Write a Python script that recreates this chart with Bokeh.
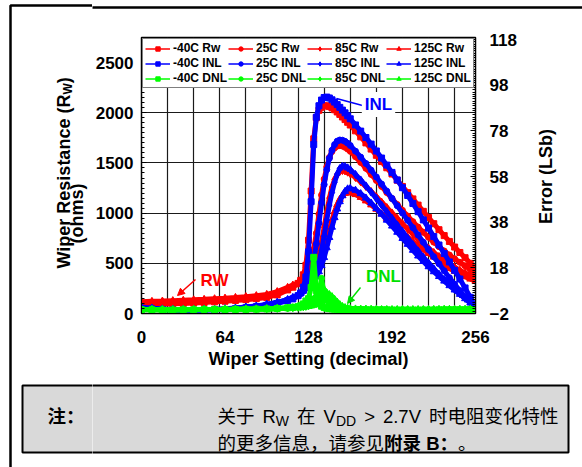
import math
from bokeh.plotting import figure
from bokeh.layouts import row, column
from bokeh.models import (Range1d, LinearAxis, FixedTicker, Label, Arrow, NormalHead,
                          Legend, LegendItem, BoxAnnotation)
from bokeh.core.properties import value
from bokeh.embed import file_html
from bokeh.resources import INLINE

# ---------------- data ----------------
codes = [0, 8, 16, 24, 32, 40, 48, 56, 64, 72, 80, 88, 96, 104, 112,
         116, 120, 122, 124, 126, 128, 130, 132, 134, 136, 138, 140, 142, 144, 146,
         148, 150, 152, 154, 156, 158, 160,
         164, 168, 172, 176, 180, 184, 188, 192, 196, 200, 204, 208, 212, 216, 220,
         224, 228, 232, 236, 240, 244, 248, 252, 256]

temps = ["-40C", "25C", "85C", "125C"]

# Wiper resistance (ohms, left axis)
rw_m40 = [85, 88, 92, 96, 100, 105, 110, 116, 122, 130, 138, 148, 160, 185, 235,
          262, 300, 330, 385, 480, 730, 1220, 1740, 1950, 2025, 2055, 2068, 2070, 2062, 2048,
          2030, 2008, 1984, 1958, 1932, 1905, 1878,
          1820, 1760, 1700, 1638, 1576, 1514, 1452, 1390, 1328, 1266, 1204, 1142, 1080, 1018, 956,
          895, 835, 776, 718, 662, 608, 556, 500, 445]
rw_25 = [95, 98, 101, 105, 109, 113, 118, 124, 130, 137, 145, 155, 168, 200, 245,
         270, 300, 322, 345, 375, 420, 520, 640, 800, 990, 1180, 1340, 1460, 1555, 1615,
         1650, 1668, 1673, 1668, 1656, 1638, 1616,
         1562, 1505, 1446, 1386, 1326, 1266, 1205, 1145, 1086, 1028, 971, 915, 861, 809, 759,
         711, 666, 623, 583, 545, 510, 475, 440, 405]
rw_85 = [105, 108, 111, 115, 119, 123, 128, 134, 140, 147, 155, 165, 177, 208, 252,
         276, 300, 318, 338, 360, 388, 415, 450, 505, 590, 710, 860, 1010, 1150, 1260,
         1335, 1385, 1415, 1424, 1420, 1408, 1392,
         1355, 1312, 1265, 1215, 1163, 1110, 1056, 1002, 948, 895, 843, 792, 743, 696, 651,
         608, 568, 530, 495, 462, 432, 404, 378, 352]
rw_125 = [118, 121, 124, 128, 132, 136, 141, 147, 153, 160, 168, 178, 190, 218, 260,
          283, 303, 318, 335, 352, 372, 395, 420, 452, 498, 560, 640, 735, 835, 930,
          1015, 1085, 1138, 1175, 1197, 1205, 1203,
          1185, 1157, 1122, 1082, 1039, 994, 948, 901, 854, 808, 763, 719, 677, 636, 598,
          562, 515, 480, 448, 420, 393, 367, 343, 320]

# INL (LSb, right axis)
inl_m40 = [0.3, 0.0, -0.3, -0.5, -0.6, -0.6, -0.5, -0.4, -0.2, 0.1, 0.5, 1.0, 1.6, 2.4, 3.6,
           4.4, 5.8, 7.0, 9.5, 14, 25, 47, 72, 84, 89, 91.5, 92.6, 92.8, 92.4, 91.6,
           90.6, 89.5, 88.3, 87.1, 85.9, 84.6, 83.3,
           80.6, 77.9, 75.1, 72.2, 69.2, 66.1, 63.0, 59.8, 56.5, 53.1, 49.7, 46.2, 42.6, 39.0, 35.4,
           31.7, 28.0, 24.3, 20.6, 16.9, 13.1, 9.2, 5.1, 0.8]
inl_25 = [0.4, 0.1, -0.2, -0.4, -0.5, -0.5, -0.4, -0.3, -0.1, 0.2, 0.6, 1.1, 1.8, 2.7, 3.9,
          4.8, 5.9, 6.7, 7.8, 9.3, 11.5, 15, 21, 28.5, 37.5, 46.5, 54.5, 61, 66, 69.5,
          72, 73.5, 74, 73.9, 73.4, 72.6, 71.6,
          69.1, 66.5, 63.7, 60.8, 57.8, 54.7, 51.6, 48.4, 45.2, 42.0, 38.8, 35.6, 32.4, 29.2, 26.0,
          22.9, 19.8, 16.7, 13.7, 10.8, 8.0, 5.3, 2.9, 0.7]
inl_85 = [0.5, 0.2, -0.1, -0.3, -0.4, -0.4, -0.3, -0.2, 0.0, 0.3, 0.7, 1.2, 1.9, 2.8, 4.0,
          4.9, 6.0, 6.8, 7.8, 9.0, 10.4, 12.0, 14.0, 16.6, 20.5, 25.5, 32, 39, 45.5, 51,
          55.5, 59, 61.5, 62.5, 62.4, 61.8, 61.0,
          58.9, 56.5, 53.9, 51.2, 48.4, 45.5, 42.6, 39.7, 36.8, 33.9, 31.0, 28.2, 25.4, 22.7, 20.1,
          17.6, 15.2, 12.9, 10.7, 8.6, 6.6, 4.6, 2.7, 0.6]
inl_125 = [0.6, 0.3, 0.0, -0.2, -0.3, -0.3, -0.2, -0.1, 0.1, 0.4, 0.8, 1.3, 2.0, 2.9, 4.1,
           5.0, 6.1, 6.9, 7.8, 8.8, 9.9, 11.1, 12.5, 14.2, 16.3, 19.0, 22.5, 26.8, 31.3, 35.8,
           40.0, 43.8, 47.0, 49.6, 51.5, 52.6, 52.8,
           52.0, 50.5, 48.6, 46.4, 44.0, 41.5, 38.9, 36.3, 33.6, 30.9, 28.3, 25.7, 23.2, 20.8, 18.5,
           16.3, 14.2, 12.2, 10.2, 8.3, 6.4, 4.5, 2.6, 0.6]

# DNL (LSb, right axis)
dnl_m40 = [-0.4, -0.4, -0.5, -0.5, -0.4, -0.4, -0.3, -0.3, -0.3, -0.2, -0.2, -0.1, 0.0, 0.2, 0.5,
           0.7, 1.0, 1.4, 2.2, 3.5, 4.5, 9.4, 22.6, 8.0, 2.5, 1.2, 0.6, 0.3, 0.1, 0.0,
           -0.1, -0.1, -0.2, -0.2, -0.2, -0.3, -0.3,
           -0.3, -0.3, -0.4, -0.4, -0.4, -0.4, -0.4, -0.5, -0.5, -0.5, -0.5, -0.5, -0.5, -0.5, -0.5,
           -0.5, -0.4, -0.4, -0.4, -0.4, -0.4, -0.4, -0.3, -0.3]
dnl_25 = [-0.3, -0.3, -0.4, -0.4, -0.4, -0.3, -0.3, -0.3, -0.2, -0.2, -0.1, -0.1, 0.0, 0.1, 0.3,
          0.5, 0.7, 0.9, 1.1, 1.4, 2.0, 3.0, 4.5, 5.5, 7.2, 13.4, 6.5, 3.7, 2.2, 1.2,
          0.7, 0.3, 0.1, 0.0, -0.1, -0.2, -0.2,
          -0.3, -0.3, -0.3, -0.4, -0.4, -0.4, -0.4, -0.4, -0.5, -0.5, -0.5, -0.5, -0.5, -0.4, -0.4,
          -0.4, -0.4, -0.4, -0.3, -0.3, -0.3, -0.3, -0.3, -0.2]
dnl_85 = [-0.3, -0.3, -0.3, -0.4, -0.3, -0.3, -0.3, -0.2, -0.2, -0.1, -0.1, 0.0, 0.1, 0.2, 0.4,
          0.5, 0.7, 0.8, 0.9, 1.1, 1.4, 1.8, 2.4, 3.2, 4.5, 6.0, 8.5, 7.0, 5.0, 3.2,
          2.0, 1.2, 0.6, 0.3, 0.1, 0.0, -0.1,
          -0.2, -0.2, -0.3, -0.3, -0.3, -0.4, -0.4, -0.4, -0.4, -0.4, -0.4, -0.4, -0.4, -0.4, -0.4,
          -0.3, -0.3, -0.3, -0.3, -0.3, -0.3, -0.2, -0.2, -0.2]
dnl_125 = [-0.2, -0.2, -0.3, -0.3, -0.3, -0.2, -0.2, -0.2, -0.1, -0.1, 0.0, 0.0, 0.1, 0.2, 0.4,
           0.5, 0.6, 0.7, 0.8, 0.9, 1.1, 1.3, 1.6, 2.0, 2.6, 3.4, 4.3, 5.5, 6.3, 5.4,
           4.2, 3.0, 1.9, 1.1, 0.6, 0.3, 0.1,
           0.0, -0.1, -0.1, -0.2, -0.2, -0.3, -0.3, -0.3, -0.3, -0.3, -0.3, -0.3, -0.3, -0.3, -0.3,
           -0.3, -0.3, -0.2, -0.2, -0.2, -0.2, -0.2, -0.1, -0.1]

x_ticks = [0, 64, 128, 192, 256]
left_ticks = [0, 500, 1000, 1500, 2000, 2500]
right_ticks = [-2, 18, 38, 58, 78, 98, 118]

# ---------------- layout constants (page pixels) ----------------
W, H = 582, 467
FL, FR, FT, FB = 141, 475, 37, 313      # plot frame
TOP_H = 10                              # strip holding the outer frame's top line
ROW_B = 380                             # bottom of the chart row
LEFT_W = 92                             # full-height strip left of the chart
RIGHT_X = 520                           # strip right of the chart (right title)
FONT = "Liberation Sans"
CJK = "Liberation Sans, Noto Sans CJK SC"

def aux(x0, x1, y0, y1, fy0=None, fy1=None):
    """A plain drawing strip whose data coordinates are page pixels."""
    fy0 = y0 if fy0 is None else fy0
    fy1 = y1 if fy1 is None else fy1
    f = figure(width=x1 - x0, height=y1 - y0, x_range=Range1d(x0, x1), y_range=Range1d(fy1, fy0),
               output_backend="svg", toolbar_location=None, min_border=0,
               x_axis_type=None, y_axis_type=None)
    f.outline_line_color = None
    f.background_fill_color = "white"
    f.border_fill_color = "white"
    f.xgrid.visible = False
    f.ygrid.visible = False
    return f

def frame_box(fig, l, r, t, b, fill=None, lw=2.5):
    fig.add_layout(BoxAnnotation(left=l, right=r, top=t, bottom=b, level="underlay",
                                 fill_color=fill or "white", fill_alpha=1.0 if fill else 0.0,
                                 line_color="black", line_alpha=1.0, line_width=lw))

# ---------------- main chart ----------------
p = figure(width=RIGHT_X - LEFT_W, height=ROW_B - TOP_H,
           x_range=Range1d(0, 256), y_range=Range1d(0, 2750),
           output_backend="svg", toolbar_location=None,
           min_border_left=FL - LEFT_W, min_border_right=RIGHT_X - FR,
           min_border_top=FT - TOP_H, min_border_bottom=ROW_B - FB)
p.background_fill_color = "white"
p.border_fill_color = "white"
p.outline_line_color = "black"
p.outline_line_width = 1.5
p.extra_y_ranges = {"lsb": Range1d(-2, 118.9)}

right_axis = LinearAxis(y_range_name="lsb",
                        ticker=FixedTicker(ticks=right_ticks, minor_ticks=list(range(-2, 119))))
p.add_layout(right_axis, "right")

left_axis = p.yaxis[0]
left_axis.ticker = FixedTicker(ticks=left_ticks, minor_ticks=list(range(0, 2751, 50)))
bottom_axis = p.xaxis[0]
bottom_axis.ticker = FixedTicker(ticks=x_ticks, minor_ticks=[])

for ax in (left_axis, right_axis, bottom_axis):
    ax.major_label_text_font = FONT
    ax.major_label_text_font_size = "17px"
    ax.major_label_text_font_style = "bold"
    ax.major_label_text_color = "black"
    ax.axis_line_color = "black"
    ax.major_tick_line_color = "black"
    ax.minor_tick_line_color = "black"
    ax.major_tick_in = 5
    ax.major_tick_out = 0
    ax.minor_tick_in = 3
    ax.minor_tick_out = 0
left_axis.major_label_standoff = 8
right_axis.major_label_standoff = 14
bottom_axis.major_tick_in = 0
bottom_axis.major_label_standoff = 17
bottom_axis.axis_label = "Wiper Setting (decimal)"
bottom_axis.axis_label_text_font = FONT
bottom_axis.axis_label_text_font_size = "18px"
bottom_axis.axis_label_text_font_style = "bold"
bottom_axis.axis_label_text_color = "black"
bottom_axis.axis_label_standoff = 3

p.xgrid.ticker = FixedTicker(ticks=list(range(20, 241, 20)))
p.ygrid.ticker = FixedTicker(ticks=[500, 1000, 1500, 2000, 2500])
for g in (p.xgrid[0], p.ygrid[0]):
    g.grid_line_color = "#1a1a1a"
    g.grid_line_width = 1.2

RED, BLUE, GREEN = "#FF0000", "#0000FF", "#00FF00"
markers = ["square", "circle", "diamond", "triangle"]
msizes = [6, 6, 8, 7]
rw_all = [rw_m40, rw_25, rw_85, rw_125]
inl_all = [inl_m40, inl_25, inl_85, inl_125]
dnl_all = [dnl_m40, dnl_25, dnl_85, dnl_125]

items = {}
for fam, data, color, rng in (("Rw", rw_all, RED, "default"),
                              ("INL", inl_all, BLUE, "lsb"),
                              ("DNL", dnl_all, GREEN, "lsb")):
    for i, t in enumerate(temps):
        p.line(codes, data[i], line_color=color, line_width=5, y_range_name=rng)
        ln = p.line(codes, data[i], line_color=color, line_width=1.5, y_range_name=rng)
        sc = p.scatter(codes, data[i], marker=markers[i], size=msizes[i],
                       fill_color=color, line_color=color, y_range_name=rng)
        items[(fam, t)] = LegendItem(label=f"{t} {fam}", renderers=[ln, sc])

ordered = [items[(fam, t)] for fam in ("Rw", "INL", "DNL") for t in temps]
legend = Legend(items=ordered, location="top_left", orientation="horizontal", ncols=4,
                border_line_color="black", border_line_width=1,
                background_fill_color="white", background_fill_alpha=1.0,
                label_text_font=FONT, label_text_font_size="12px",
                label_text_font_style="bold", label_text_color="black",
                glyph_width=25, glyph_height=11, label_height=11, label_standoff=3,
                spacing=1, padding=2, margin=1)
p.add_layout(legend)

def sx(cx):
    return cx - FL

def sy(cy):
    return FB - cy

def dx(cx):
    return (cx - FL) * 256.0 / (FR - FL)

def dy(cy):
    return (FB - cy) * 2750.0 / (FB - FT)

def lab(text, cx, cy, size, color, bg=None, pad=0):
    l = Label(x=sx(cx), y=sy(cy), x_units="screen", y_units="screen", text=text,
              text_font=FONT, text_font_size=f"{size}px", text_font_style="bold",
              text_color=color, text_align="center", text_baseline="middle")
    if bg is not None:
        l.background_fill_color = bg
        l.padding = pad
    p.add_layout(l)

p.add_layout(Arrow(x_start=dx(362), y_start=dy(105), x_end=dx(336), y_end=dy(98),
                   end=None, line_color=BLUE, line_width=1.5))
lab("INL", 378, 104, 17, BLUE, bg="white", pad=3)
p.add_layout(Arrow(x_start=dx(195), y_start=dy(279), x_end=dx(177), y_end=dy(295),
                   end=NormalHead(size=7, fill_color=RED, line_color=RED),
                   line_color=RED, line_width=1.5))
lab("RW", 214, 280, 17, RED)
p.add_layout(Arrow(x_start=dx(360), y_start=dy(287), x_end=dx(347), y_end=dy(303),
                   end=NormalHead(size=7, fill_color="#00E000", line_color="#00E000"),
                   line_color="#00E000", line_width=1.5))
lab("DNL", 383, 276, 17, "#00E000")

# ---------------- text metrics helper (Arial/Liberation widths, CJK = 1em) ----------------
BOLD_W = {'W': .944, 'i': .278, 'p': .611, 'e': .556, 'r': .389, ' ': .278, 'R': .722,
          's': .556, 't': .333, 'a': .556, 'n': .611, 'c': .556, '(': .333, ')': .333}
REG_W = {' ': .278, 'R': .722, 'W': .944, 'V': .667, 'D': .722, '>': .584, '2': .556,
         '.': .278, '7': .556, 'B': .722}

def tw(s, size, table):
    return sum(table.get(ch, 1.0) for ch in s) * size

NOTE_T, NOTE_B = 385, 452
NS, SS = 18.5, 14
GAP = 8

# ---------------- left strip: outer frame, left axis title, note label ----------------
left = aux(0, LEFT_W, 0, H)
frame_box(left, 10, 1000, 5, 2000)
frame_box(left, 22, 1000, NOTE_T, NOTE_B, fill="#d9d9d9", lw=2)
TS = 18
rx, ry0 = 63, 268
t1 = "Wiper Resistance (R"
w1 = tw(t1, TS, BOLD_W)
w2 = tw("W", 12, BOLD_W)
left.text(x=[rx, rx + 4, rx], y=[ry0, ry0 - w1, ry0 - w1 - w2], text=[t1, "W", ")"],
          text_font=value(FONT), text_font_size=["18px", "12px", "18px"],
          text_font_style="bold", text_color="black", text_align="left",
          text_baseline="alphabetic", angle=math.pi / 2)
left.text(x=[76], y=[213], text=["(ohms)"], text_font=value(FONT), text_font_size="18px",
          text_font_style="bold", text_color="black", text_align="center",
          text_baseline="middle", angle=math.pi / 2)
left.text(x=[47], y=[416], text=["注："], text_font=value(CJK), text_font_size=f"{NS}px",
          text_font_style="bold", text_color="black", text_align="left",
          text_baseline="alphabetic")

# ---------------- top strip (outer frame top line) ----------------
top = aux(LEFT_W, W, 0, TOP_H)
frame_box(top, -1000, 1000, 5, 2000)

# ---------------- right strip (right axis title); its frame aligns with the chart frame --------
right = aux(RIGHT_X, W, TOP_H, ROW_B, FT, FB)
right.text(x=[545], y=[176], text=["Error (LSb)"], text_font=value(FONT),
           text_font_size="18px", text_font_style="bold", text_color="black",
           text_align="center", text_baseline="middle", angle=math.pi / 2)

# ---------------- note strip ----------------
note = aux(LEFT_W, W, ROW_B, H)
frame_box(note, -1000, 568, NOTE_T, NOTE_B, fill="#d9d9d9", lw=2)
nx, ny, nt, nsz, nst = [], [], [], [], []
x = 217
# (text, size, drop, gap after)
for txt, size, drop, gap in (("关于", NS, 0, GAP), ("R", NS, 0, 0), ("W", SS, 4, GAP),
                             ("在", NS, 0, GAP), ("V", NS, 0, 0), ("DD", SS, 4, GAP),
                             (">", NS, 0, GAP), ("2.7V", NS, 0, GAP),
                             ("时电阻变化特性", NS, 0, 0)):
    nx.append(x); ny.append(416 + drop); nt.append(txt); nsz.append(f"{size}px"); nst.append("normal")
    x += tw(txt, size, REG_W) + gap
x = 217
for txt, style in (("的更多信息，请参见", "normal"), ("附录 B：", "bold"), ("。", "normal")):
    nx.append(x); ny.append(443); nt.append(txt); nsz.append(f"{NS}px"); nst.append(style)
    x += tw(txt, NS, REG_W)
note.text(x=nx, y=ny, text=nt, text_font=value(CJK), text_font_size=nsz,
          text_font_style=nst, text_color="black", text_align="left",
          text_baseline="alphabetic")

layout = row(left, column(top, row(p, right), note))
open("out.html", "w").write(file_html(layout, INLINE))
